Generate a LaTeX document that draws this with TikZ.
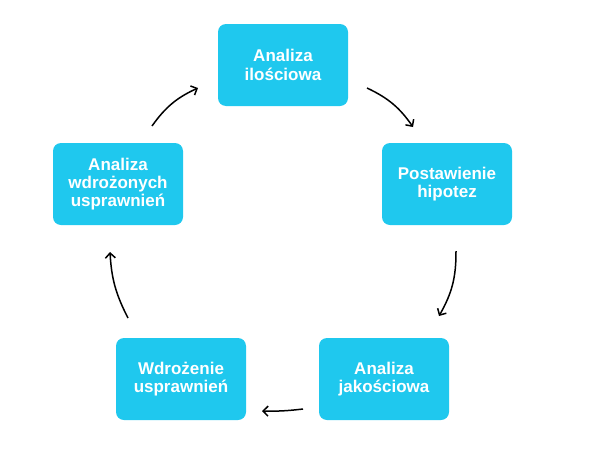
\documentclass[tikz,border=0pt]{standalone}
\usepackage{fontspec}
\setmainfont{Liberation Sans}
\usetikzlibrary{arrows.meta}
\definecolor{skyblue}{HTML}{1FC8EE}

\begin{document}
\begin{tikzpicture}[
  x=1pt, y=1pt,
  stage/.style={rectangle, rounded corners=8pt, fill=skyblue, minimum width=130pt, minimum height=82pt, align=center, text=white, font=\fontsize{17}{18.3}\selectfont\bfseries},
  arrow/.style={-{Straight Barb[length=5pt, width=10pt, line width=1.5pt]}, line width=1.5pt, draw=black}
]
\useasboundingbox (0,0) rectangle (600,-450);
\node[stage] (quant) at (283,-65)  {Analiza\\ilościowa};
\node[stage] (hyp)   at (447,-184) {Postawienie\\hipotez};
\node[stage] (qual)  at (384,-379) {Analiza\\jakościowa};
\node[stage] (impl)  at (181,-379) {Wdrożenie\\usprawnień};
\node[stage] (eval)  at (118,-184) {Analiza\\wdrożonych\\usprawnień};
% arrow ends
\coordinate (quant-out) at (367,-88);
\coordinate (hyp-in)    at (413,-127);
\coordinate (hyp-out)   at (456,-251);
\coordinate (qual-in)   at (439,-316);
\coordinate (qual-out)  at (303,-409);
\coordinate (impl-in)   at (262,-411);
\coordinate (impl-out)  at (128,-318);
\coordinate (eval-in)   at (110,-252);
\coordinate (eval-out)  at (152,-126);
\coordinate (quant-in)  at (198,-88);
\draw[arrow] (quant-out) to[bend left=15] (hyp-in);
\draw[arrow] (hyp-out) to[bend left=15] (qual-in);
\draw[arrow] (qual-out) to[bend left=4] (impl-in);
\draw[arrow] (impl-out) to[bend left=12] (eval-in);
\draw[arrow] (eval-out) to[bend left=15] (quant-in);
\end{tikzpicture}
\end{document}
